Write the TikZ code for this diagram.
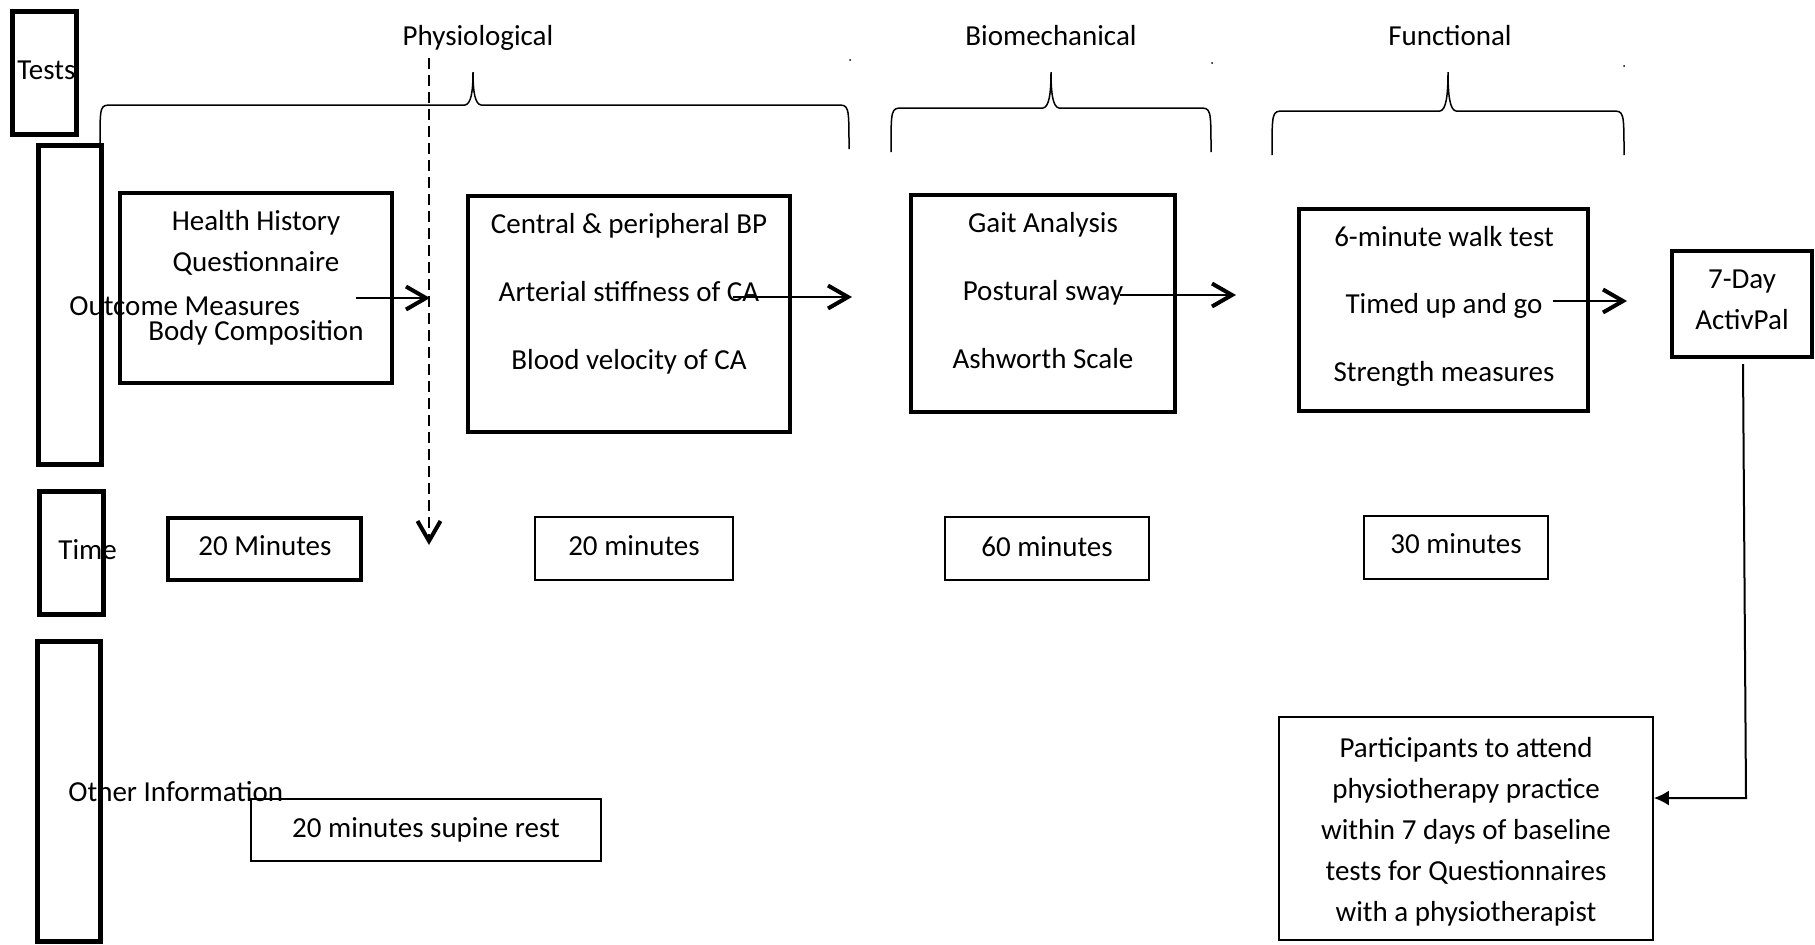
\documentclass[tikz,border=0pt]{standalone}
\usepackage{fontspec}
\setmainfont{Carlito}
\usetikzlibrary{arrows.meta,fit}
\begin{document}
\begin{tikzpicture}[x=0.5pt,y=-0.5pt,
  txt/.style={inner sep=0pt, font=\fontsize{14.5}{17}\selectfont},
  colbox/.style={draw, line width=2.5pt, inner sep=0pt},
  midbox/.style={draw, line width=1.75pt, inner sep=0pt},
  thinbox/.style={draw, line width=0.85pt, inner sep=0pt},
  brace/.style={line width=0.75pt},
  flow/.style={line width=0.8pt, -{Straight Barb[length=10pt,width=11.5pt,line width=2pt]}},
]
\useasboundingbox (0,0) rectangle (1815,944);

% left column boxes
\node[colbox, fit={(12.5,11.5) (76.5,134.5)}] (testsbox) {};
\node[colbox, fit={(38.5,145.5) (101.5,464.5)}] (omboxcol) {};
\node[colbox, fit={(39.5,491.5) (103.5,614.5)}] (timebox) {};
\node[colbox, fit={(37.5,641.5) (100.5,941.5)}] (otherbox) {};
\node[txt, anchor=base west] (tests) at (17,79) {Tests};
\node[txt, anchor=base west] (om) at (69,315) {Outcome Measures};
\node[txt, anchor=base west] (time) at (58,559) {Time};
\node[txt, anchor=base west] (other) at (68,801) {Other Information};

% headers
\node[txt, anchor=base] (phys) at (478,45) {Physiological};
\node[txt, anchor=base] (bio) at (1051,45) {Biomechanical};
\node[txt, anchor=base] (func) at (1450,45) {Functional};

% braces
\draw[brace] (100,143) .. controls (100,105) .. (112,105) -- (465,105)
  .. controls (471,104) and (473,92) .. (473,72)
  .. controls (473,92) and (475,104) .. (481,105) -- (837,105)
  .. controls (849,105) .. (849,149);
\draw[brace] (891,152) .. controls (891,108) .. (903,108) -- (1043,108)
  .. controls (1049,107) and (1051,94) .. (1051,72)
  .. controls (1051,94) and (1053,107) .. (1059,108) -- (1199,108)
  .. controls (1211,108) .. (1211,152);
\draw[brace] (1272,155) .. controls (1272,111) .. (1284,111) -- (1440,111)
  .. controls (1446,110) and (1448,96) .. (1448,72)
  .. controls (1448,96) and (1450,110) .. (1456,111) -- (1612,111)
  .. controls (1624,111) .. (1624,155);
\fill (850,60) circle (1);
\fill (1212,63) circle (1);
\fill (1624,66) circle (1);

% test boxes
\node[midbox, fit={(120,193) (392,383)}] (hhbox) {};
\node[txt, anchor=base] (hh1) at (256,230) {Health History};
\node[txt, anchor=base] (hh2) at (256,271) {Questionnaire};
\node[txt, anchor=base] (hh3) at (256,340) {Body Composition};

\node[midbox, fit={(468,196) (790,432)}] (bpbox) {};
\node[txt, anchor=base] (bp1) at (629,233) {Central \& peripheral BP};
\node[txt, anchor=base] (bp2) at (629,301) {Arterial stiffness of CA};
\node[txt, anchor=base] (bp3) at (629,369) {Blood velocity of CA};

\node[midbox, fit={(911,195) (1175,412)}] (gaitbox) {};
\node[txt, anchor=base] (g1) at (1043,232) {Gait Analysis};
\node[txt, anchor=base] (g2) at (1043,300) {Postural sway};
\node[txt, anchor=base] (g3) at (1043,368) {Ashworth Scale};

\node[midbox, fit={(1299,209) (1588,411)}] (funcbox) {};
\node[txt, anchor=base] (f1) at (1444,246) {6-minute walk test};
\node[txt, anchor=base] (f2) at (1444,313) {Timed up and go};
\node[txt, anchor=base] (f3) at (1444,381) {Strength measures};

\node[midbox, fit={(1672,251) (1812,357)}] (apbox) {};
\node[txt, anchor=base] (ap1) at (1742,288) {7-Day};
\node[txt, anchor=base] (ap2) at (1742,329) {ActivPal};

% time boxes
\node[midbox, fit={(168,518) (361,580)}] (t1box) {};
\node[txt, anchor=base] (t1) at (265,555) {20 Minutes};
\node[thinbox, fit={(535,517) (733,580)}] (t2box) {};
\node[txt, anchor=base] (t2) at (634,555) {20 minutes};
\node[thinbox, fit={(945,517) (1149,580)}] (t3box) {};
\node[txt, anchor=base] (t3) at (1047,556) {60 minutes};
\node[thinbox, fit={(1364,516) (1548,579)}] (t4box) {};
\node[txt, anchor=base] (t4) at (1456,553) {30 minutes};

% other information
\node[thinbox, fit={(251,799) (601,861)}] (supbox) {};
\node[txt, anchor=base] (sup) at (426,837) {20 minutes supine rest};
\node[thinbox, fit={(1279,717) (1653,940)}] (partbox) {};
\node[txt, anchor=base] (p1) at (1466,757) {Participants to attend};
\node[txt, anchor=base] (p2) at (1466,798) {physiotherapy practice};
\node[txt, anchor=base] (p3) at (1466,839) {within 7 days of baseline};
\node[txt, anchor=base] (p4) at (1466,880) {tests for Questionnaires};
\node[txt, anchor=base] (p5) at (1466,921) {with a physiotherapist};

% connectors
\coordinate (dtop) at (429,58);
\coordinate (dbot) at (429,545);
\draw[flow, dashed, dash pattern=on 5.5pt off 3pt] (dtop) -- (dbot);
\coordinate (a1s) at (356,298);
\coordinate (a1e) at (430,298);
\draw[flow] (a1s) -- (a1e);
\coordinate (a2s) at (733,297);
\coordinate (a2e) at (852,297);
\draw[flow] (a2s) -- (a2e);
\coordinate (a3s) at (1120,295);
\coordinate (a3e) at (1236,295);
\draw[flow] (a3s) -- (a3e);
\coordinate (a4s) at (1553,301);
\coordinate (a4e) at (1627,301);
\draw[flow] (a4s) -- (a4e);
\coordinate (apstart) at (1743,364);
\coordinate (apbend) at (1746,798);
\draw[line width=1pt, -{Latex[length=7.5pt,width=7.5pt]}] (apstart) -- (apbend) -- (partbox.east |- apbend);
\end{tikzpicture}
\end{document}
